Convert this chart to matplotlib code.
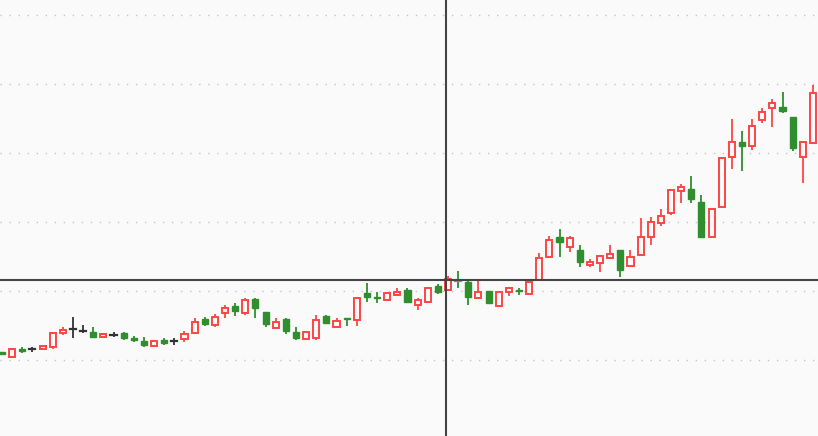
import numpy as np
from matplotlib import pyplot as plt

# daily candles (price units: grid every 0.5)
opens = [9.058, 9.022, 9.080, 9.080, 9.080, 9.094, 9.196, 9.225, 9.210, 9.203,
         9.167, 9.181, 9.196, 9.159, 9.138, 9.101, 9.145, 9.138, 9.152, 9.196,
         9.297, 9.254, 9.341, 9.391, 9.341, 9.442, 9.348, 9.232, 9.297, 9.203,
         9.152, 9.159, 9.319, 9.239, 9.304, 9.290, 9.486, 9.457, 9.435, 9.471,
         9.507, 9.399, 9.420, 9.536, 9.507, 9.572, 9.565, 9.449, 9.500, 9.391,
         9.493, 9.507, 9.478, 9.580, 9.746, 9.891, 9.819, 9.797, 9.688, 9.703,
         9.739, 9.797, 9.681, 9.761, 9.891, 9.993, 10.065, 10.225, 10.239, 10.145,
         9.891, 10.109, 10.471, 10.580, 10.551, 10.739, 10.826, 10.833, 10.761, 10.471,
         10.572]
closes = [9.043, 9.080, 9.065, 9.080, 9.101, 9.196, 9.217, 9.225, 9.210, 9.167,
          9.188, 9.181, 9.159, 9.145, 9.109, 9.138, 9.123, 9.138, 9.188, 9.275,
          9.261, 9.312, 9.377, 9.355, 9.435, 9.377, 9.261, 9.275, 9.210, 9.159,
          9.203, 9.290, 9.268, 9.283, 9.297, 9.449, 9.457, 9.449, 9.486, 9.493,
          9.420, 9.435, 9.522, 9.493, 9.587, 9.572, 9.457, 9.493, 9.413, 9.493,
          9.522, 9.500, 9.565, 9.739, 9.870, 9.855, 9.884, 9.710, 9.710, 9.754,
          9.768, 9.652, 9.746, 9.891, 10.000, 10.043, 10.232, 10.254, 10.167, 9.891,
          10.094, 10.464, 10.580, 10.551, 10.696, 10.797, 10.862, 10.804, 10.536, 10.580,
          10.935]
highs = [9.058, 9.080, 9.094, 9.094, 9.101, 9.196, 9.239, 9.312, 9.254, 9.239,
         9.188, 9.203, 9.203, 9.174, 9.167, 9.138, 9.159, 9.159, 9.210, 9.304,
         9.312, 9.333, 9.399, 9.413, 9.449, 9.449, 9.348, 9.304, 9.304, 9.239,
         9.203, 9.326, 9.326, 9.304, 9.304, 9.457, 9.558, 9.493, 9.486, 9.522,
         9.522, 9.449, 9.529, 9.551, 9.609, 9.645, 9.572, 9.572, 9.500, 9.493,
         9.529, 9.522, 9.565, 9.775, 9.899, 9.949, 9.899, 9.833, 9.732, 9.761,
         9.833, 9.797, 9.797, 10.029, 10.036, 10.094, 10.239, 10.275, 10.333, 10.196,
         10.094, 10.464, 10.746, 10.659, 10.746, 10.826, 10.891, 10.942, 10.761, 10.580,
         10.993]
lows = [9.043, 9.022, 9.051, 9.058, 9.080, 9.080, 9.181, 9.159, 9.196, 9.159,
        9.167, 9.167, 9.145, 9.130, 9.094, 9.101, 9.109, 9.109, 9.130, 9.196,
        9.246, 9.239, 9.304, 9.319, 9.326, 9.304, 9.239, 9.232, 9.188, 9.145,
        9.152, 9.145, 9.268, 9.232, 9.246, 9.246, 9.420, 9.413, 9.435, 9.464,
        9.413, 9.362, 9.420, 9.478, 9.507, 9.522, 9.399, 9.449, 9.413, 9.391,
        9.464, 9.471, 9.478, 9.580, 9.746, 9.746, 9.783, 9.674, 9.674, 9.638,
        9.732, 9.601, 9.674, 9.761, 9.833, 9.971, 10.051, 10.138, 10.138, 9.884,
        9.884, 10.109, 10.384, 10.370, 10.522, 10.717, 10.688, 10.790, 10.514, 10.283,
        10.572]

grid_levels = [9.0, 9.5, 10.0, 10.5, 11.0, 11.5]
cross_x = 43.8      # crosshair position (candle index)
cross_y = 9.58      # crosshair price
marked = 45         # candle under the cursor label

up_col = '#ff4545'
down_col = '#2f8f2f'
flat_col = '#333333'
bg = '#fafafa'

fig = plt.figure(figsize=(8.18, 4.36), dpi=100, facecolor=bg)
ax = fig.add_axes([0, 0, 1, 1], facecolor=bg)

w = 0.6
for i in range(len(opens)):
    o, c, h, l = opens[i], closes[i], highs[i], lows[i]
    top, bot = max(o, c), min(o, c)
    if c > o:
        col = up_col
    elif c < o:
        col = down_col
    else:
        col = flat_col
    if i == marked:
        col_body = '#e050e0'
        col = down_col
    else:
        col_body = col
    # wicks above and below the body
    if h > top:
        ax.plot([i, i], [top, h], color=col, lw=1.3, solid_capstyle='butt', zorder=2)
    if l < bot:
        ax.plot([i, i], [l, bot], color=col, lw=1.3, solid_capstyle='butt', zorder=2)
    if c > o:
        ax.bar(i, top - bot, bottom=bot, width=w, facecolor=bg, edgecolor=col,
               linewidth=1.4, zorder=3)
    elif c < o:
        ax.bar(i, top - bot, bottom=bot, width=w, facecolor=col, edgecolor=col,
               linewidth=1.0, zorder=3)
    else:
        ax.plot([i - w / 2, i + w / 2], [o, o], color=col_body, lw=1.6, zorder=3)

for g in grid_levels:
    ax.axhline(g, color='#c4c4c4', lw=1.0, linestyle=(0, (1, 5.5)), zorder=1)

ax.axvline(cross_x, color='#444444', lw=1.5, zorder=4)
ax.axhline(cross_y, color='#444444', lw=1.5, zorder=4)

ax.set_xlim(-0.2, 80.5)
ax.set_ylim(8.449, 11.609)
ax.axis('off')

fig.savefig('out.png', dpi=100, facecolor=bg)
